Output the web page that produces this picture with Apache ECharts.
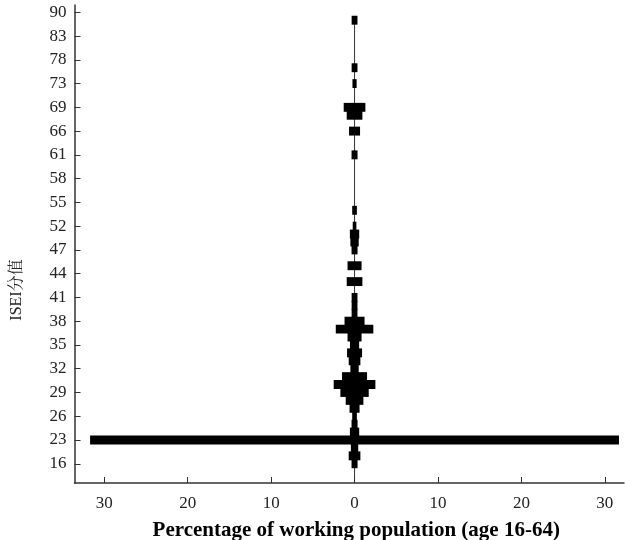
<!DOCTYPE html>
<html>
<head>
<meta charset="utf-8">
<script src="https://cdn.jsdelivr.net/npm/echarts@6/dist/echarts.min.js"></script>
<style>
html,body{margin:0;padding:0;background:#fff;}
#chart{width:625px;height:540px;}
</style>
</head>
<body>
<div id="chart"></div>
<script>
// ISEI score categories (top to bottom)
const categories = [90,88,85,83,81,79,78,77,75,73,71,70,69,68,67,66,64,62,61,60,59,58,57,56,55,54,53,52,50,49,47,46,45,44,43,42,41,40,39,38,37,36,35,34,33,32,31,30,29,28,27,26,25,24,23,20,18,16];
// percentage of working population (drawn mirrored on both sides of 0)
const values = [0,0.35,0,0,0,0,0,0.35,0,0.25,0,0,1.3,0.94,0,0.66,0,0,0.36,0,0,0,0,0,0,0.28,0,0.22,0.56,0.5,0.36,0,0.84,0,0.94,0,0.35,0.35,0.35,1.2,2.25,0.84,0.55,0.9,0.7,0.5,1.5,2.5,1.7,1.06,0.6,0.28,0.36,0.56,31.7,0.44,0.7,0.36];
const yTickLabels = [90,83,78,73,69,66,61,58,55,52,47,44,41,38,35,32,29,26,23,16];
const xTickValues = [-30,-20,-10,0,10,20,30];

const Y_MIN = -0.92, Y_MAX = 59.43;
const X_MIN = -33.57, X_MAX = 32.3;

const serif = '"Liberation Serif","Times New Roman",serif';
const yTickIdx = yTickLabels.map(v => categories.indexOf(v));
const firstIdx = values.findIndex(v => v > 0);

const chart = echarts.init(document.getElementById('chart'), null, {renderer:'canvas'});
chart.setOption({
  animation:false,
  backgroundColor:'#fff',
  grid:{left:74.5, right:1, top:5, bottom:57, containLabel:false, outerBoundsMode:'none'},
  xAxis:{
    type:'value', min:X_MIN, max:X_MAX, position:'bottom',
    axisLine:{show:true, onZero:false, lineStyle:{color:'#333', width:1.5}},
    axisTick:{show:true, inside:true, length:6, customValues:xTickValues, lineStyle:{color:'#333'}},
    axisLabel:{customValues:xTickValues, formatter:v=>String(Math.abs(v)), color:'#222', fontFamily:serif, fontSize:17, margin:12},
    splitLine:{show:false},
    name:'Percentage of working population (age 16-64)',
    nameLocation:'middle', nameGap:37,
    nameTextStyle:{fontFamily:serif, fontSize:21, fontWeight:'bold', color:'#000', padding:[0,0,0,14]}
  },
  yAxis:{
    type:'value', min:Y_MIN, max:Y_MAX, inverse:true, position:'left',
    axisLine:{show:true, onZero:false, lineStyle:{color:'#333', width:1.5}},
    axisTick:{show:true, inside:true, length:6, customValues:yTickIdx, lineStyle:{color:'#333'}},
    axisLabel:{customValues:yTickIdx, formatter:v=>String(categories[Math.round(v)]), color:'#222', fontFamily:serif, fontSize:17, margin:8},
    splitLine:{show:false},
    name:'ISEI分值', nameLocation:'middle', nameGap:50,
    nameTextStyle:{fontFamily:'"Liberation Serif","Noto Serif CJK SC","Noto Sans CJK SC",serif', fontSize:16, color:'#222', padding:[0,92,0,0]}
  },
  series:[
    {
      type:'line', z:1, symbol:'none', silent:true,
      data:[[0, firstIdx],[0, Y_MAX]],
      lineStyle:{color:'#333', width:1}
    },
    {
      type:'custom', z:2,
      data: categories.map((c,i)=>[i, values[i]]),
      encode:{y:0, x:1},
      renderItem:function(params, api){
        const idx = api.value(0), v = api.value(1);
        if (!v) return null;
        const l = api.coord([-v, idx]);
        const r = api.coord([v, idx]);
        const h = api.size([0,1])[1];
        return {type:'rect', shape:{x:l[0], y:l[1]-h/2-0.5, width:r[0]-l[0], height:h+1}, style:{fill:'#000'}};
      }
    }
  ]
});
</script>
</body>
</html>
